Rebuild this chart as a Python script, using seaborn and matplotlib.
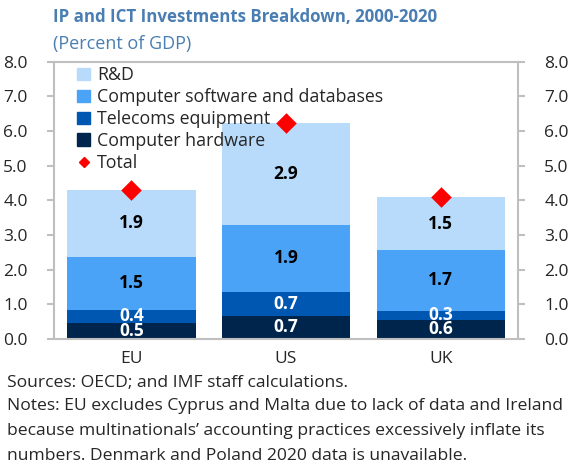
import matplotlib
matplotlib.use("Agg")
import matplotlib.pyplot as plt
import pandas as pd
import seaborn as sns
from matplotlib.lines import Line2D
from matplotlib.patches import Patch

# Datos (porcentaje del PIB)
regiones = ["EU", "US", "UK"]
hardware = [0.47, 0.67, 0.56]
telecom = [0.37, 0.69, 0.26]
software = [1.54, 1.94, 1.74]
rd = [1.92, 2.93, 1.54]

componentes = ["Computer hardware", "Telecoms equipment",
               "Computer software and databases", "R&D"]
colores = ["#00254D", "#0057B2", "#4BA3F7", "#B8DBFB"]
color_texto = ["white", "white", "black", "black"]

TITULO = "IP and ICT Investments Breakdown, 2000-2020"
SUBTITULO = "(Percent of GDP)"
FUENTES = "Sources: OECD; and IMF staff calculations."
NOTAS = ("Notes: EU excludes Cyprus and Malta due to lack of data and Ireland\n"
         "because multinationals\u2019 accounting practices excessively inflate its\n"
         "numbers. Denmark and Poland 2020 data is unavailable.")

FUENTE = "Open Sans"
AZUL_TITULO = "#4A7EB2"
GRIS = "#BFBFBF"


def main():
    sns.set_style("white")
    plt.rcParams["font.family"] = [FUENTE, "DejaVu Sans"]

    df = pd.DataFrame({"region": regiones, "Computer hardware": hardware,
                       "Telecoms equipment": telecom,
                       "Computer software and databases": software,
                       "R&D": rd})
    acumulado = df[componentes].cumsum(axis=1)
    df["Total"] = acumulado["R&D"]

    fig = plt.figure(figsize=(5.82, 4.65), dpi=100)
    ax = fig.add_axes([0.093, 0.271, 0.797, 0.596])

    # barras apiladas: se dibuja de la mas alta a la mas baja
    for comp, col in reversed(list(zip(componentes, colores))):
        sns.barplot(x=df["region"], y=acumulado[comp], color=col, width=0.83,
                    saturation=1, linewidth=0, ax=ax)

    # etiquetas de cada segmento
    for i in range(len(regiones)):
        base = 0
        for comp, tc in zip(componentes, color_texto):
            v = df.loc[i, comp]
            ax.text(i, base + v / 2, f"{v:.1f}", ha="center", va="center",
                    fontsize=12.5, fontweight="bold", color=tc)
            base += v

    sns.scatterplot(x=df["region"], y=df["Total"], marker="D", color="#FF0000",
                    s=110, linewidth=0, ax=ax, zorder=5, legend=False)

    ax.set_xlim(-0.5, 2.5)
    ax.set_ylim(0, 8)
    ax.set_yticks(range(0, 9))
    ax.set_yticklabels([f"{v:.1f}" for v in range(0, 9)])
    ax.set_xlabel("")
    ax.set_ylabel("")
    for s in ax.spines.values():
        s.set_color(GRIS)
        s.set_linewidth(1.5)
    ax.tick_params(axis="y", left=True, right=True, labelright=True,
                   length=5, width=1.5, color=GRIS, labelsize=12.5, pad=14)
    ax.tick_params(axis="x", length=0, labelsize=12.5, pad=9)

    handles = [Patch(color=c, label=n) for n, c in
               reversed(list(zip(componentes, colores)))]
    handles.append(Line2D([], [], marker="D", color="#FF0000", linestyle="",
                          markersize=5, label="Total"))
    ax.legend(handles=handles, loc="upper left", frameon=False,
              fontsize=12.8, handlelength=0.7, handleheight=0.7,
              handletextpad=0.4, labelspacing=0.22,
              bbox_to_anchor=(0.035, 1.01), borderaxespad=0)

    fig.text(0.091, 0.963, TITULO, fontsize=12.2, fontweight="bold",
             color=AZUL_TITULO, va="center")
    fig.text(0.091, 0.905, SUBTITULO, fontsize=13, color=AZUL_TITULO,
             va="center")
    fig.text(0.012, 0.177, FUENTES, fontsize=12.6, va="center")
    fig.text(0.012, 0.145, NOTAS, fontsize=12.6, va="top", linespacing=1.75)

    plt.savefig("out.png", dpi=100)


if __name__ == "__main__":
    main()
